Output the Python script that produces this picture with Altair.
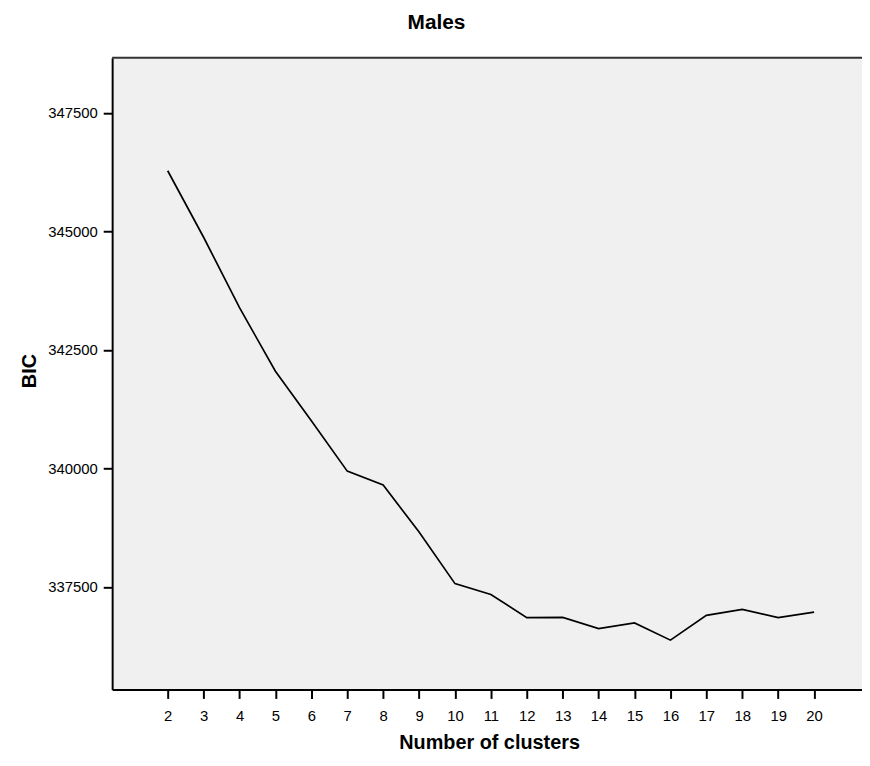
import altair as alt
import pandas as pd

# Data
clusters = list(range(2, 21))
bic = [346280, 344877, 343390, 342050, 341003, 339942, 339648, 338658,
       337569, 337339, 336851, 336857, 336621, 336738, 336376, 336899,
       337025, 336851, 336968]
y_ticks = [337500, 340000, 342500, 345000, 347500]

df = pd.DataFrame({"clusters": clusters, "BIC": bic})

W, H = 756, 637
FONT = "Liberation Sans"

line = alt.Chart(df).mark_line(color="black", strokeWidth=1.7).encode(
    x=alt.X(
        "clusters:Q",
        scale=alt.Scale(domain=[0.4533, 21.334], nice=False, zero=False),
        axis=alt.Axis(
            values=clusters, format="d", title="Number of clusters",
            labelPadding=10, labelFlush=False,
            titleX=W / 2 + 2, titleY=60, titleBaseline="alphabetic",
            titleAlign="center",
        ),
    ),
    y=alt.Y(
        "BIC:Q",
        scale=alt.Scale(domain=[335335, 348666], nice=False, zero=False),
        axis=alt.Axis(
            values=y_ticks, format="d", title="BIC",
            labelPadding=6, labelFlush=False,
            titleX=-83, titleY=H / 2 - 3, titleBaseline="middle",
            titleAlign="center",
        ),
    ),
)

top_border = alt.Chart(pd.DataFrame({"a": [0]})).mark_rule(
    color="#333333", strokeWidth=2
).encode(x=alt.value(0), x2=alt.value(W), y=alt.value(0))

chart = alt.layer(line, top_border).properties(
    width=W,
    height=H,
    autosize=alt.AutoSizeParams(type="none"),
    padding={"left": 105, "top": 47, "right": 0, "bottom": 66},
    title=alt.TitleParams(
        "Males", font=FONT, fontSize=21, fontWeight="bold", color="black",
        anchor="middle", dx=-51, offset=24,
    ),
).configure_view(
    fill="#f0f0f0", stroke="transparent", strokeWidth=0
).configure_axis(
    grid=False,
    labelFont=FONT, labelFontSize=15, labelColor="black",
    titleFont=FONT, titleFontSize=20, titleFontWeight="bold", titleColor="black",
    domainColor="black", domainWidth=2,
    tickColor="black", tickWidth=2, tickSize=9,
)

chart.save("out.html", embed_options={"renderer": "svg", "actions": False})
